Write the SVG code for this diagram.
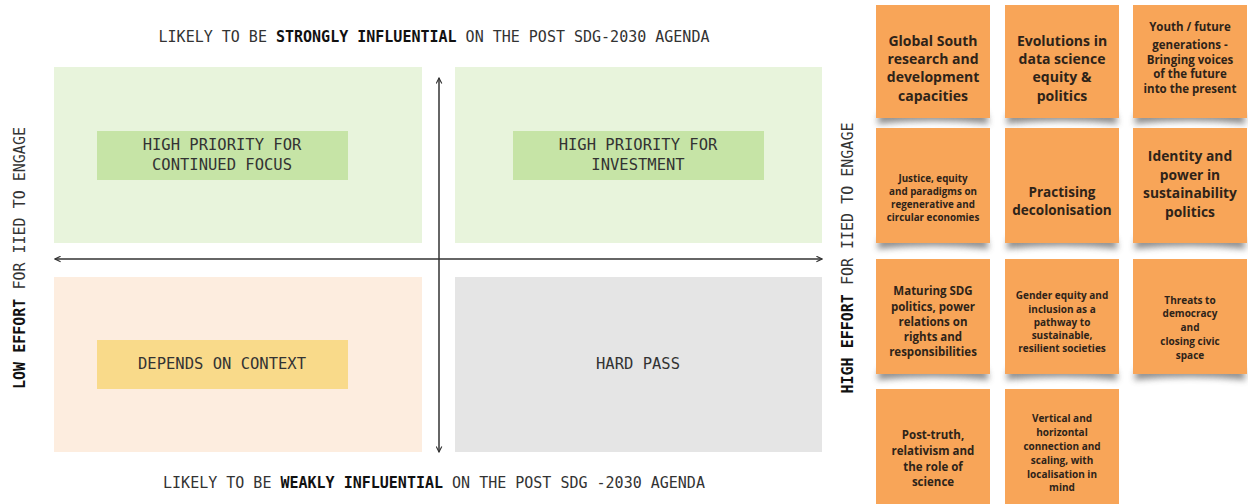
<svg xmlns="http://www.w3.org/2000/svg" width="1248" height="504" viewBox="0 0 1248 504">
<style>
.mono{font-family:"DejaVu Sans Mono","Liberation Mono",monospace;fill:#333;}
.t{font-size:15px;}
.q{font-size:15.5px;text-anchor:middle;}
.b{font-weight:bold;fill:#111;}
.axis{stroke:#333;stroke-width:1.5;fill:none;}
.note{fill:#f8a558;}
.nt{font-family:"Open Sans","Noto Sans","Liberation Sans",sans-serif;font-weight:bold;fill:#2e2318;text-anchor:middle;}
</style>
<defs>
<marker id="arr" viewBox="0 0 10 10" refX="9" refY="5" markerWidth="7" markerHeight="7" orient="auto-start-reverse" markerUnits="userSpaceOnUse">
<path d="M1,1 L9,5 L1,9" fill="none" stroke="#333" stroke-width="1.6"/>
</marker>
<filter id="sh" x="-20%" y="-50%" width="140%" height="200%">
<feGaussianBlur stdDeviation="3"/>
</filter>
</defs>
<rect width="1248" height="504" fill="#ffffff"/>

<g id="quadrant-tl">
<rect x="54" y="67" width="368" height="176" fill="#e8f4dc"/>
<rect x="97" y="131" width="251" height="49" fill="#c6e4a6"/>
<text class="mono q" x="222" y="150">HIGH PRIORITY FOR</text>
<text class="mono q" x="222" y="170">CONTINUED FOCUS</text>
</g>
<g id="quadrant-tr">
<rect x="455" y="67" width="367" height="176" fill="#e8f4dc"/>
<rect x="513" y="131" width="251" height="49" fill="#c6e4a6"/>
<text class="mono q" x="638" y="150">HIGH PRIORITY FOR</text>
<text class="mono q" x="638" y="170">INVESTMENT</text>
</g>
<g id="quadrant-bl">
<rect x="54" y="277" width="368" height="175" fill="#fdeddf"/>
<rect x="97" y="340" width="251" height="49" fill="#f9da8a"/>
<text class="mono q" x="222" y="369">DEPENDS ON CONTEXT</text>
</g>
<g id="quadrant-br">
<rect x="455" y="277" width="367" height="175" fill="#e5e5e5"/>
<text class="mono q" x="638" y="369">HARD PASS</text>
</g>

<g id="connectors">
<line class="axis" x1="439" y1="452" x2="439" y2="78" marker-start="url(#arr)" marker-end="url(#arr)"/>
<line class="axis" x1="55" y1="259" x2="822" y2="259" marker-start="url(#arr)" marker-end="url(#arr)"/>
</g>

<g id="labels">
<text class="mono t" x="434" y="42" text-anchor="middle">LIKELY TO BE <tspan class="b">STRONGLY INFLUENTIAL</tspan> ON THE POST SDG-2030 AGENDA</text>
<text class="mono t" x="434" y="488" text-anchor="middle">LIKELY TO BE <tspan class="b">WEAKLY INFLUENTIAL</tspan> ON THE POST SDG -2030 AGENDA</text>
<text class="mono t" transform="translate(25,258) rotate(-90)" text-anchor="middle"><tspan class="b">LOW EFFORT</tspan> FOR IIED TO ENGAGE</text>
<text class="mono t" transform="translate(853,258) rotate(-90)" text-anchor="middle"><tspan class="b">HIGH EFFORT</tspan> FOR IIED TO ENGAGE</text>
</g>

<g id="shadows" filter="url(#sh)" fill="#7a7a7a" opacity="0.85">
<path d="M880,112 L986,112 L989,124 Q933,118 877,124 Z"/>
<path d="M1009,112 L1115,112 L1118,124 Q1062,118 1006,124 Z"/>
<path d="M1137,112 L1243,112 L1246,124 Q1190,118 1134,124 Z"/>
<path d="M880,237 L986,237 L989,249 Q933,243 877,249 Z"/>
<path d="M1009,237 L1115,237 L1118,249 Q1062,243 1006,249 Z"/>
<path d="M1137,237 L1243,237 L1246,249 Q1190,243 1134,249 Z"/>
<path d="M880,368 L986,368 L989,380 Q933,374 877,380 Z"/>
<path d="M1009,368 L1115,368 L1118,380 Q1062,374 1006,380 Z"/>
<path d="M1137,368 L1243,368 L1246,380 Q1190,374 1134,380 Z"/>
</g>

<g id="note-global-south">
<rect class="note" x="876" y="5" width="114" height="113"/>
<text class="nt" font-size="14" x="933" y="46">Global South</text>
<text class="nt" font-size="14" x="933" y="64">research and</text>
<text class="nt" font-size="14" x="933" y="82">development</text>
<text class="nt" font-size="14" x="933" y="101">capacities</text>
</g>
<g id="note-evolutions">
<rect class="note" x="1005" y="5" width="114" height="113"/>
<text class="nt" font-size="14" x="1062" y="46">Evolutions in</text>
<text class="nt" font-size="14" x="1062" y="64">data science</text>
<text class="nt" font-size="14" x="1062" y="82">equity &amp;</text>
<text class="nt" font-size="14" x="1062" y="101">politics</text>
</g>
<g id="note-youth">
<rect class="note" x="1133" y="5" width="114" height="113"/>
<text class="nt" font-size="11.5" x="1190" y="31">Youth / future</text>
<text class="nt" font-size="11.5" x="1190" y="49">generations -</text>
<text class="nt" font-size="11.5" x="1190" y="64">Bringing voices</text>
<text class="nt" font-size="11.5" x="1190" y="78">of the future</text>
<text class="nt" font-size="11.5" x="1190" y="93">into the present</text>
</g>

<g id="note-justice">
<rect class="note" x="876" y="128" width="114" height="115"/>
<text class="nt" font-size="9.8" x="933" y="181.5">Justice, equity</text>
<text class="nt" font-size="9.8" x="933" y="194.5">and paradigms on</text>
<text class="nt" font-size="9.8" x="933" y="207.5">regenerative and</text>
<text class="nt" font-size="9.8" x="933" y="220.5">circular economies</text>
</g>
<g id="note-decolonisation">
<rect class="note" x="1005" y="128" width="114" height="115"/>
<text class="nt" font-size="13.5" x="1062" y="197">Practising</text>
<text class="nt" font-size="13.5" x="1062" y="215">decolonisation</text>
</g>
<g id="note-identity">
<rect class="note" x="1133" y="128" width="114" height="115"/>
<text class="nt" font-size="13.8" x="1190" y="161">Identity and</text>
<text class="nt" font-size="13.8" x="1190" y="180">power in</text>
<text class="nt" font-size="13.8" x="1190" y="198">sustainability</text>
<text class="nt" font-size="13.8" x="1190" y="217">politics</text>
</g>

<g id="note-maturing">
<rect class="note" x="876" y="259" width="114" height="115"/>
<text class="nt" font-size="11.5" x="933" y="295">Maturing SDG</text>
<text class="nt" font-size="11.5" x="933" y="311">politics, power</text>
<text class="nt" font-size="11.5" x="933" y="326">relations on</text>
<text class="nt" font-size="11.5" x="933" y="341">rights and</text>
<text class="nt" font-size="11.5" x="933" y="356">responsibilities</text>
</g>
<g id="note-gender">
<rect class="note" x="1005" y="259" width="114" height="115"/>
<text class="nt" font-size="10" x="1062" y="298.5">Gender equity and</text>
<text class="nt" font-size="10" x="1062" y="312.5">inclusion as a</text>
<text class="nt" font-size="10" x="1062" y="325.5">pathway to</text>
<text class="nt" font-size="10" x="1062" y="338.5">sustainable,</text>
<text class="nt" font-size="10" x="1062" y="351.5">resilient societies</text>
</g>
<g id="note-threats">
<rect class="note" x="1133" y="259" width="114" height="115"/>
<text class="nt" font-size="10" x="1190" y="303.5">Threats to</text>
<text class="nt" font-size="10" x="1190" y="316.5">democracy</text>
<text class="nt" font-size="10" x="1190" y="330.5">and</text>
<text class="nt" font-size="10" x="1190" y="344.5">closing civic</text>
<text class="nt" font-size="10" x="1190" y="358.5">space</text>
</g>

<g id="note-post-truth">
<rect class="note" x="876" y="389" width="114" height="115"/>
<text class="nt" font-size="11.5" x="933" y="439">Post-truth,</text>
<text class="nt" font-size="11.5" x="933" y="455">relativism and</text>
<text class="nt" font-size="11.5" x="933" y="471">the role of</text>
<text class="nt" font-size="11.5" x="933" y="486">science</text>
</g>
<g id="note-vertical">
<rect class="note" x="1005" y="389" width="114" height="115"/>
<text class="nt" font-size="10" x="1062" y="421.5">Vertical and</text>
<text class="nt" font-size="10" x="1062" y="435.5">horizontal</text>
<text class="nt" font-size="10" x="1062" y="449.5">connection and</text>
<text class="nt" font-size="10" x="1062" y="463.5">scaling, with</text>
<text class="nt" font-size="10" x="1062" y="477.5">localisation in</text>
<text class="nt" font-size="10" x="1062" y="490.5">mind</text>
</g>
</svg>
